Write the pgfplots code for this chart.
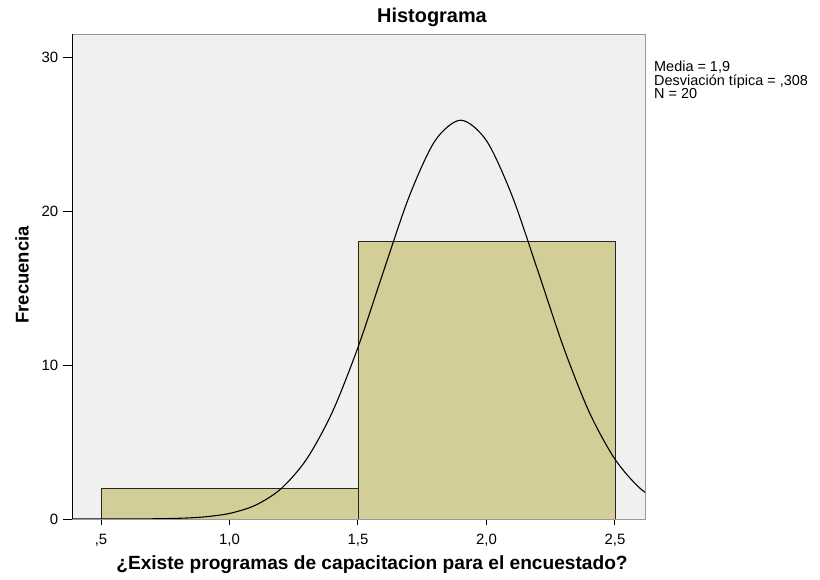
\documentclass[border=0pt]{standalone}
\usepackage{pgfplots}
\pgfplotsset{compat=1.18}
\usepackage{fontspec}
\setmainfont{Liberation Sans}
\definecolor{bgc}{HTML}{F0F0F0}
\definecolor{barc}{HTML}{D3CE98}
\begin{document}
\begin{tikzpicture}
\begin{axis}[
  name=ax,
  at={(0,0)}, anchor=south west,
  scale only axis,
  width=573bp, height=485bp,
  xmin=0.387, xmax=2.617,
  ymin=0, ymax=31.5,
  axis background/.style={fill=bgc},
  axis line style={draw=gray!80},
  xtick pos=bottom, ytick pos=left,
  xtick={0.5,1,1.5,2,2.5},
  xticklabels={{,5},{1,0},{1,5},{2,0},{2,5}},
  ytick={0,10,20,30},
  yticklabels={0,10,20,30},
  tick align=outside,
  xtick style={black, line width=1pt, /pgfplots/major tick length=6bp},
  ytick style={black, line width=1pt, /pgfplots/major tick length=9bp},
  every tick label/.append style={font=\fontsize{15}{15}\selectfont},
  xticklabel style={yshift=-7bp},
  yticklabel style={xshift=-6bp},
  /pgf/number format/assume math mode=true,
  clip=true,
]
\addplot[ybar interval, fill=barc, draw=black!85, line width=0.8pt] coordinates {(0.5,2) (1.5,18) (2.5,18)};
\addplot[smooth, black, line width=1.1pt, no marks] coordinates {
(0.387,0.0000) (0.5,0.0009) (0.6,0.0035) (0.7,0.013) (0.8,0.044) (0.9,0.133) (1.0,0.362)
(1.1,0.889) (1.2,1.958) (1.3,3.886) (1.4,6.94) (1.5,11.15) (1.6,16.12) (1.7,20.98)
(1.8,24.57) (1.9,25.90) (2.0,24.57) (2.1,20.98) (2.2,16.12) (2.3,11.15) (2.4,6.94)
(2.5,3.886) (2.6,1.958) (2.7,0.889)};
\draw[black, line width=1pt] (rel axis cs:0,0) -- (rel axis cs:1,0);
\draw[black, line width=1pt] (rel axis cs:0,0) -- (rel axis cs:0,1);
\end{axis}
\node[font=\bfseries\fontsize{20}{20}\selectfont] at ([xshift=360bp,yshift=502bp]ax.south west) {Histograma};
\node[font=\bfseries\fontsize{19.2}{19}\selectfont] at ([xshift=300bp,yshift=-46bp]ax.south west) {¿Existe programas de capacitacion para el encuestado?};
\node[font=\bfseries\fontsize{18.5}{18.5}\selectfont, rotate=90] at ([xshift=-50bp,yshift=244bp]ax.south west) {Frecuencia};
\node[anchor=north west, align=left, font=\fontsize{14.5}{13.5}\selectfont, inner sep=0pt]
  at ([xshift=9bp,yshift=-27bp]ax.north east) {Media = 1,9\\Desviación típica = ,308\\N = 20};
\pgfresetboundingbox
\path (ax.south west) ++(-72bp,-61bp) rectangle ++(820bp,580bp);
\end{tikzpicture}
\end{document}
